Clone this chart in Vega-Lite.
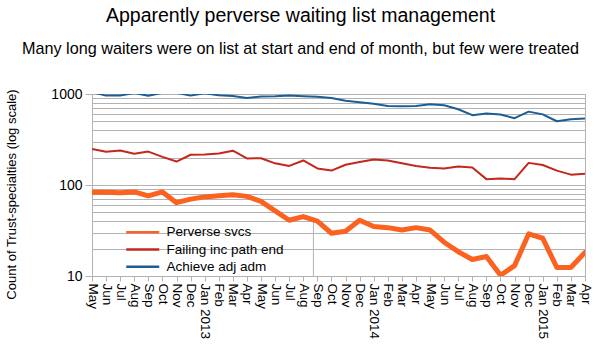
{
  "$schema": "https://vega.github.io/schema/vega-lite/v6.json",
  "width": 493,
  "height": 182,
  "autosize": "none",
  "padding": {"left": 92, "top": 94, "right": 14, "bottom": 77},
  "background": "white",
  "title": {
    "text": "Apparently perverse waiting list management",
    "subtitle": "Many long waiters were on list at start and end of month, but few were treated",
    "anchor": "middle",
    "dx": -38,
    "fontSize": 19.5,
    "fontWeight": "normal",
    "subtitleFontSize": 16.2,
    "color": "black",
    "subtitleColor": "black",
    "offset": 29,
    "subtitlePadding": 14
  },
  "datasets": {
    "series": [
      {"m":"2012-05","s":"Perverse svcs","v":83},{"m":"2012-06","s":"Perverse svcs","v":83},{"m":"2012-07","s":"Perverse svcs","v":82},{"m":"2012-08","s":"Perverse svcs","v":84},{"m":"2012-09","s":"Perverse svcs","v":76},{"m":"2012-10","s":"Perverse svcs","v":84},{"m":"2012-11","s":"Perverse svcs","v":64},{"m":"2012-12","s":"Perverse svcs","v":70},{"m":"2013-01","s":"Perverse svcs","v":74},{"m":"2013-02","s":"Perverse svcs","v":76},{"m":"2013-03","s":"Perverse svcs","v":78},{"m":"2013-04","s":"Perverse svcs","v":75},
      {"m":"2013-05","s":"Perverse svcs","v":66},{"m":"2013-06","s":"Perverse svcs","v":52},{"m":"2013-07","s":"Perverse svcs","v":41},{"m":"2013-08","s":"Perverse svcs","v":45},{"m":"2013-09","s":"Perverse svcs","v":40},{"m":"2013-10","s":"Perverse svcs","v":29.5},{"m":"2013-11","s":"Perverse svcs","v":31},{"m":"2013-12","s":"Perverse svcs","v":41},{"m":"2014-01","s":"Perverse svcs","v":35},{"m":"2014-02","s":"Perverse svcs","v":34},{"m":"2014-03","s":"Perverse svcs","v":32},{"m":"2014-04","s":"Perverse svcs","v":34},
      {"m":"2014-05","s":"Perverse svcs","v":32},{"m":"2014-06","s":"Perverse svcs","v":23.5},{"m":"2014-07","s":"Perverse svcs","v":18.5},{"m":"2014-08","s":"Perverse svcs","v":15.2},{"m":"2014-09","s":"Perverse svcs","v":16.4},{"m":"2014-10","s":"Perverse svcs","v":10.2},{"m":"2014-11","s":"Perverse svcs","v":13},{"m":"2014-12","s":"Perverse svcs","v":29},{"m":"2015-01","s":"Perverse svcs","v":26},{"m":"2015-02","s":"Perverse svcs","v":12.4},{"m":"2015-03","s":"Perverse svcs","v":12.4},{"m":"2015-04","s":"Perverse svcs","v":18.2},
      {"m":"2012-05","s":"Failing inc path end","v":248},{"m":"2012-06","s":"Failing inc path end","v":232},{"m":"2012-07","s":"Failing inc path end","v":239},{"m":"2012-08","s":"Failing inc path end","v":220},{"m":"2012-09","s":"Failing inc path end","v":233},{"m":"2012-10","s":"Failing inc path end","v":204},{"m":"2012-11","s":"Failing inc path end","v":181},{"m":"2012-12","s":"Failing inc path end","v":215},{"m":"2013-01","s":"Failing inc path end","v":216},{"m":"2013-02","s":"Failing inc path end","v":222},{"m":"2013-03","s":"Failing inc path end","v":238},{"m":"2013-04","s":"Failing inc path end","v":196},
      {"m":"2013-05","s":"Failing inc path end","v":197},{"m":"2013-06","s":"Failing inc path end","v":173},{"m":"2013-07","s":"Failing inc path end","v":162},{"m":"2013-08","s":"Failing inc path end","v":186},{"m":"2013-09","s":"Failing inc path end","v":152},{"m":"2013-10","s":"Failing inc path end","v":144},{"m":"2013-11","s":"Failing inc path end","v":167},{"m":"2013-12","s":"Failing inc path end","v":179},{"m":"2014-01","s":"Failing inc path end","v":191},{"m":"2014-02","s":"Failing inc path end","v":186},{"m":"2014-03","s":"Failing inc path end","v":173},{"m":"2014-04","s":"Failing inc path end","v":162},
      {"m":"2014-05","s":"Failing inc path end","v":155},{"m":"2014-06","s":"Failing inc path end","v":152},{"m":"2014-07","s":"Failing inc path end","v":160},{"m":"2014-08","s":"Failing inc path end","v":156},{"m":"2014-09","s":"Failing inc path end","v":116},{"m":"2014-10","s":"Failing inc path end","v":118},{"m":"2014-11","s":"Failing inc path end","v":116},{"m":"2014-12","s":"Failing inc path end","v":175},{"m":"2015-01","s":"Failing inc path end","v":166},{"m":"2015-02","s":"Failing inc path end","v":144},{"m":"2015-03","s":"Failing inc path end","v":130},{"m":"2015-04","s":"Failing inc path end","v":133},
      {"m":"2012-05","s":"Achieve adj adm","v":1050},{"m":"2012-06","s":"Achieve adj adm","v":960},{"m":"2012-07","s":"Achieve adj adm","v":962},{"m":"2012-08","s":"Achieve adj adm","v":1025},{"m":"2012-09","s":"Achieve adj adm","v":958},{"m":"2012-10","s":"Achieve adj adm","v":1030},{"m":"2012-11","s":"Achieve adj adm","v":1030},{"m":"2012-12","s":"Achieve adj adm","v":960},{"m":"2013-01","s":"Achieve adj adm","v":1020},{"m":"2013-02","s":"Achieve adj adm","v":968},{"m":"2013-03","s":"Achieve adj adm","v":948},{"m":"2013-04","s":"Achieve adj adm","v":905},
      {"m":"2013-05","s":"Achieve adj adm","v":940},{"m":"2013-06","s":"Achieve adj adm","v":942},{"m":"2013-07","s":"Achieve adj adm","v":962},{"m":"2013-08","s":"Achieve adj adm","v":945},{"m":"2013-09","s":"Achieve adj adm","v":935},{"m":"2013-10","s":"Achieve adj adm","v":905},{"m":"2013-11","s":"Achieve adj adm","v":845},{"m":"2013-12","s":"Achieve adj adm","v":812},{"m":"2014-01","s":"Achieve adj adm","v":783},{"m":"2014-02","s":"Achieve adj adm","v":740},{"m":"2014-03","s":"Achieve adj adm","v":733},{"m":"2014-04","s":"Achieve adj adm","v":739},
      {"m":"2014-05","s":"Achieve adj adm","v":771},{"m":"2014-06","s":"Achieve adj adm","v":751},{"m":"2014-07","s":"Achieve adj adm","v":680},{"m":"2014-08","s":"Achieve adj adm","v":585},{"m":"2014-09","s":"Achieve adj adm","v":610},{"m":"2014-10","s":"Achieve adj adm","v":595},{"m":"2014-11","s":"Achieve adj adm","v":542},{"m":"2014-12","s":"Achieve adj adm","v":640},{"m":"2015-01","s":"Achieve adj adm","v":597},{"m":"2015-02","s":"Achieve adj adm","v":502},{"m":"2015-03","s":"Achieve adj adm","v":529},{"m":"2015-04","s":"Achieve adj adm","v":537}
    ],
    "legendframe": [{"pos": 15.72, "lo": 10, "hi": 40}]
  },
  "layer": [
    {
      "data": {"name": "legendframe"},
      "mark": {"type": "rule", "color": "#b3b3b3", "strokeWidth": 1},
      "encoding": {
        "x": {"field": "pos", "type": "quantitative", "scale": {"domain": [0, 35], "nice": false, "zero": false}, "axis": null},
        "y": {"field": "lo", "type": "quantitative", "title": "Count of Trust-specialties (log scale)", "scale": {"type": "log", "domain": [10, 1000], "nice": false}},
        "y2": {"field": "hi"}
      }
    },
    {
      "data": {"name": "series"},
      "encoding": {
        "x": {
          "field": "m",
          "type": "ordinal",
          "sort": null,
          "scale": {"type": "point", "padding": 0},
          "axis": {
            "title": null,
            "labelAngle": 90,
            "labelFontSize": 13.5,
            "labelColor": "black",
            "labelPadding": 2,
            "labelOverlap": false,
            "tickSize": 5,
            "tickColor": "#b3b3b3",
            "domainColor": "#b3b3b3",
            "grid": false,
            "labelExpr": "utcmonth(toDate(datum.value + '-01')) == 0 ? utcFormat(toDate(datum.value + '-01'), '%b %Y') : utcFormat(toDate(datum.value + '-01'), '%b')"
          }
        },
        "y": {
          "field": "v",
          "type": "quantitative",
          "title": "Count of Trust-specialties (log scale)",
          "scale": {"type": "log", "domain": [10, 1000], "nice": false},
          "axis": {
            "titleFontSize": 13,
            "titleFontWeight": "normal",
            "titleColor": "black",
            "titleX": -74,
            "titleY": 100,
            "values": [10,20,30,40,50,60,70,80,90,100,200,300,400,500,600,700,800,900,1000],
            "labelExpr": "datum.value == 10 || datum.value == 100 || datum.value == 1000 ? format(datum.value, 'd') : ''",
            "labelFontSize": 14,
            "labelColor": "black",
            "labelPadding": 3,
            "tickSize": 7,
            "tickColor": {"condition": {"test": "datum.value == 10 || datum.value == 100 || datum.value == 1000", "value": "#b3b3b3"}, "value": "transparent"},
            "domainColor": "#b3b3b3",
            "grid": true,
            "gridColor": "#b3b3b3",
            "gridWidth": 1
          }
        },
        "color": {
          "field": "s",
          "type": "nominal",
          "scale": {"domain": ["Perverse svcs", "Failing inc path end", "Achieve adj adm"], "range": ["#fb6220", "#c4271c", "#1c5d94"]},
          "legend": {
            "orient": "none",
            "legendX": 41.25,
            "legendY": 128.75,
            "title": null,
            "symbolType": "M-2,0H2",
            "symbolSize": 272,
            "symbolStrokeWidth": 2.5,
            "labelFontSize": 13.5,
            "labelColor": "black",
            "labelOffset": 14.25,
            "padding": 0,
            "rowPadding": 1.3
          }
        }
      },
      "layer": [
        {
          "transform": [{"filter": "datum.s != 'Perverse svcs'"}],
          "mark": {"type": "line", "clip": true, "strokeWidth": 2, "strokeJoin": "round"}
        },
        {
          "transform": [{"filter": "datum.s == 'Perverse svcs'"}],
          "mark": {"type": "line", "clip": true, "strokeWidth": 5, "strokeJoin": "round", "strokeCap": "round"}
        }
      ]
    }
  ],
  "resolve": {"scale": {"x": "independent"}, "axis": {"x": "independent"}},
  "config": {
    "font": "Liberation Sans",
    "view": {"stroke": "#b3b3b3"}
  }
}
